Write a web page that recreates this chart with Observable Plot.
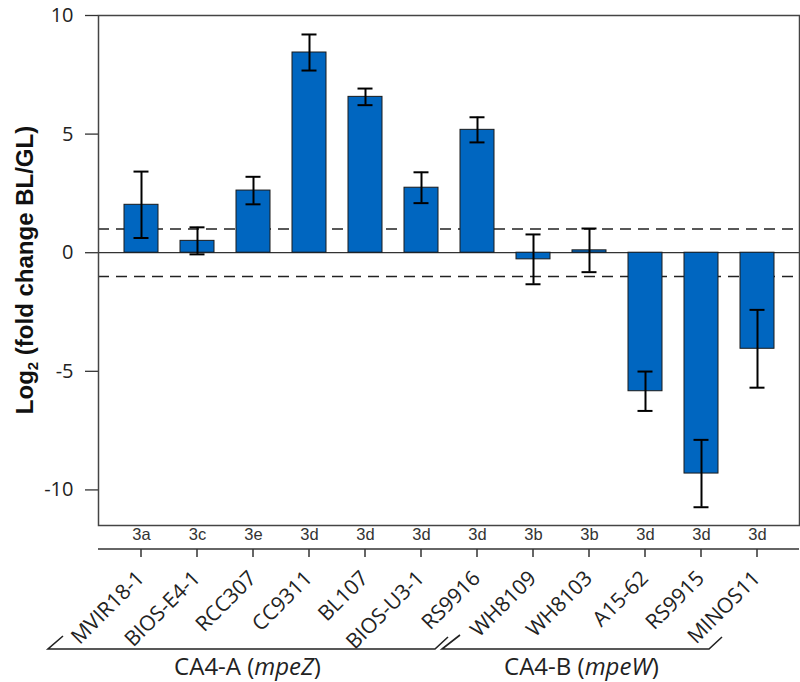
<!DOCTYPE html>
<html>
<head>
<meta charset="utf-8">
<script src="https://cdn.jsdelivr.net/npm/d3@7"></script>
<script src="https://cdn.jsdelivr.net/npm/@observablehq/plot@0.6"></script>
<style>
  html, body { margin: 0; padding: 0; background: #fff; }
  #chart svg { display: block; }
</style>
</head>
<body>
<div id="chart"></div>
<script>
const strains  = ["MVIR18-1","BIOS-E4-1","RCC307","CC9311","BL107","BIOS-U3-1","RS9916","WH8109","WH8103","A15-62","RS9915","MINOS11"];
const subtypes = ["3a","3c","3e","3d","3d","3d","3d","3b","3b","3d","3d","3d"];
const log2fc   = [2.02, 0.5, 2.62, 8.44, 6.57, 2.74, 5.18, -0.28, 0.1, -5.84, -9.31, -4.05];
const errs     = [1.4, 0.57, 0.58, 0.76, 0.35, 0.65, 0.53, 1.05, 0.92, 0.83, 1.42, 1.64];
const yTicks   = [-10, -5, 0, 5, 10];
const thresholds = [-1, 1];
const groups = [
  {label: "CA4-A", gene: "mpeZ", first: "MVIR18-1", last: "RS9916"},
  {label: "CA4-B", gene: "mpeW", first: "WH8109", last: "MINOS11"}
];

const data = strains.map((s, i) => ({strain: s, subtype: subtypes[i], v: log2fc[i], e: errs[i]}));

const sans = "'Open Sans', sans-serif";
const arial = "'Liberation Sans', Arial, sans-serif";

const plot = Plot.plot({
  width: 800,
  height: 682,
  marginLeft: 98,
  marginRight: 1,
  marginTop: 15,
  marginBottom: 157,
  style: {fontFamily: sans, background: "#fff", color: "#222"},
  x: {domain: strains, padding: 0.4, axis: null},
  y: {domain: [-11.5, 10], axis: null},
  marks: [
    Plot.ruleY(thresholds, {stroke: "#222", strokeWidth: 1.4, strokeDasharray: "11,7"}),
    Plot.ruleY([0], {stroke: "#333", strokeWidth: 1.2}),
    Plot.barY(data, {x: "strain", y: "v", fill: "#0066C0", stroke: "#1a1a1a", strokeWidth: 1}),
    Plot.ruleX(data, {x: "strain", y1: d => d.v - d.e, y2: d => d.v + d.e, stroke: "#000", strokeWidth: 2}),
    Plot.tickY(data, {x: "strain", y: d => d.v + d.e, stroke: "#000", strokeWidth: 2, inset: 9.5}),
    Plot.tickY(data, {x: "strain", y: d => d.v - d.e, stroke: "#000", strokeWidth: 2, inset: 9.5}),
    Plot.axisY({ticks: yTicks, tickFormat: d => String(d), tickSize: 13, tickPadding: 12, fontSize: 20, fontFamily: sans, stroke: "#333", strokeWidth: 1.3, label: null, color: "#222"}),
    Plot.frame({stroke: "#444", strokeWidth: 1.5}),
    Plot.text(data, {x: "strain", text: "subtype", frameAnchor: "bottom", dy: 14, fontSize: 16.5, fontFamily: arial, fill: "#333"}),
    Plot.text(data, {x: "strain", text: "strain", frameAnchor: "bottom", dx: 4, dy: 54, rotate: -45, textAnchor: "end", lineAnchor: "bottom", fontSize: 21, fontFamily: sans, fill: "#222"})
  ]
});

document.getElementById("chart").appendChild(plot);

// decorations derived from the plot's own x scale
const xs = plot.scale("x");
const bw = xs.bandwidth;
const cx = s => xs.apply(s) + bw / 2;
const svg = d3.select(plot);

// secondary axis line + ticks
const axY = 549;
svg.append("line").attr("x1", 98).attr("x2", 799).attr("y1", axY).attr("y2", axY)
  .attr("stroke", "#333").attr("stroke-width", 1.5);
svg.append("g").selectAll("line").data(strains).join("line")
  .attr("x1", d => cx(d)).attr("x2", d => cx(d)).attr("y1", axY).attr("y2", axY + 8)
  .attr("stroke", "#333").attr("stroke-width", 1.5);

// y-axis title
const yt = svg.append("text")
  .attr("transform", "translate(33,270) rotate(-90)")
  .attr("text-anchor", "middle")
  .attr("font-family", arial).attr("font-weight", "bold").attr("font-size", 24).attr("fill", "#111");
yt.append("tspan").text("Log");
yt.append("tspan").text("2").attr("font-size", 15).attr("dy", 5);
yt.append("tspan").text(" (fold change BL/GL)").attr("dy", -5);

// group brackets
const bY = 649;
const brackets = [
  {x0: cx(groups[0].first) - 93, x1: cx(groups[0].last) - 42, l: [15, 13], r: [13, 12]},
  {x0: cx(groups[1].first) - 91, x1: cx(groups[1].last) - 48, l: [18, 14], r: [13, 12]}
];
brackets.forEach((b, i) => {
  const p = `M${b.x0 + b.l[0]},${bY - b.l[1]} L${b.x0},${bY} L${b.x1},${bY} L${b.x1 + b.r[0]},${bY - b.r[1]}`;
  svg.append("path").attr("d", p).attr("fill", "none").attr("stroke", "#222").attr("stroke-width", 1.6);
  const t = svg.append("text")
    .attr("x", (b.x0 + b.x1) / 2 + 6).attr("y", 675)
    .attr("text-anchor", "middle").attr("font-family", sans).attr("font-size", 24).attr("fill", "#222");
  t.append("tspan").text(groups[i].label + " (");
  t.append("tspan").text(groups[i].gene).attr("font-style", "italic");
  t.append("tspan").text(")");
});
</script>
</body>
</html>
